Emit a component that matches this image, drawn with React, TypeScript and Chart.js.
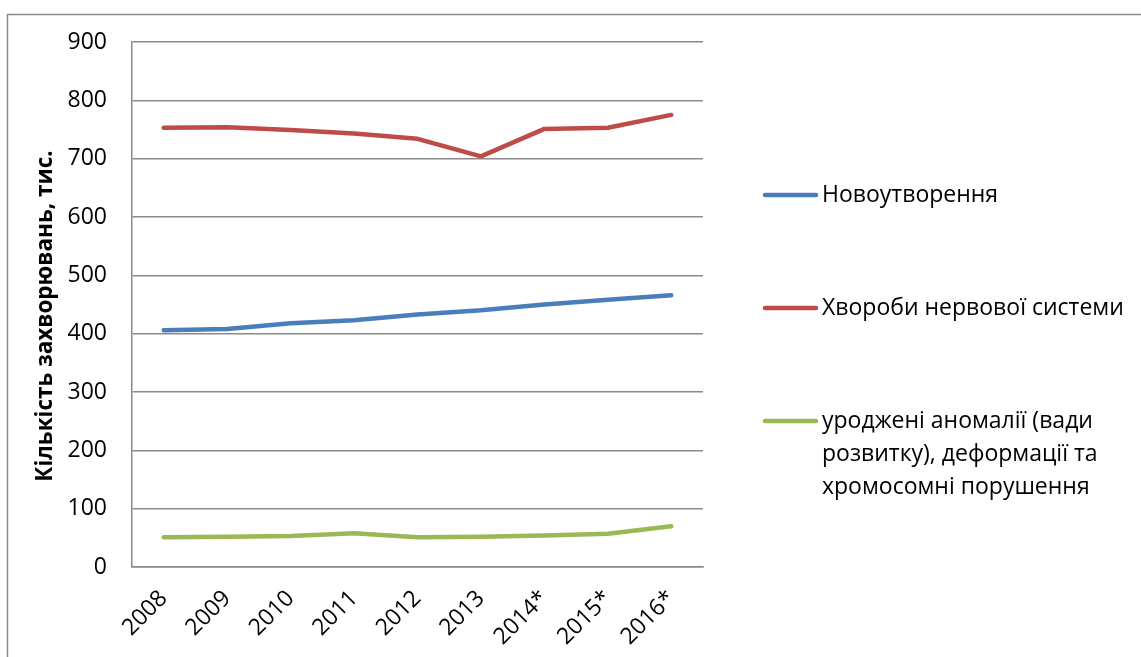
import React, { useEffect, useRef } from "react";
import { Chart, registerables } from "chart.js";

Chart.register(...registerables);

const categories = ["2008", "2009", "2010", "2011", "2012", "2013", "2014*", "2015*", "2016*"];
const neoplasms = [406, 408, 418, 423, 433, 440, 450, 458, 466];
const nervous = [753, 754, 749, 743, 734, 704, 751, 753, 775];
const congenital = [51, 52, 53, 58, 51, 52, 54, 57, 70];

const seriesNames = [
  ["Новоутворення"],
  ["Хвороби нервової системи"],
  ["уроджені аномалії (вади", "розвитку), деформації та", "хромосомні порушення"],
];
const seriesColors = ["#4a7ebb", "#be4b48", "#98b954"];
const yTitle = "Кількість захворювань, тис.";
const FONT = "'Open Sans', sans-serif";

const decorPlugin = {
  id: "decor",
  afterDraw(chart: any) {
    const ctx = chart.ctx;
    ctx.save();
    // outer border
    ctx.strokeStyle = "#8a8a8a";
    ctx.lineWidth = 1.5;
    ctx.beginPath();
    ctx.moveTo(7.5, 657);
    ctx.lineTo(7.5, 14.5);
    ctx.lineTo(1141, 14.5);
    ctx.stroke();
    // y-axis title
    ctx.save();
    ctx.translate(46, 316);
    ctx.rotate(-Math.PI / 2);
    ctx.font = `bold 22.5px ${FONT}`;
    ctx.textAlign = "center";
    ctx.textBaseline = "middle";
    ctx.fillStyle = "#000";
    ctx.fillText(yTitle, 0, 0);
    ctx.restore();
    // legend
    const ys = [195, 308, 421];
    ctx.font = `23px ${FONT}`;
    ctx.textBaseline = "middle";
    ctx.fillStyle = "#000";
    seriesNames.forEach((lines, i) => {
      ctx.strokeStyle = seriesColors[i];
      ctx.lineWidth = 4.5;
      ctx.lineCap = "round";
      ctx.beginPath();
      ctx.moveTo(765, ys[i]);
      ctx.lineTo(816, ys[i]);
      ctx.stroke();
      lines.forEach((t, j) => {
        ctx.fillText(t, 822, ys[i] + j * 33);
      });
    });
    ctx.restore();
  },
};

export default function App() {
  const ref = useRef<HTMLCanvasElement>(null);
  useEffect(() => {
    if (!ref.current) return;
    const chart = new Chart(ref.current, {
      type: "line",
      data: {
        labels: categories,
        datasets: [neoplasms, nervous, congenital].map((d, i) => ({
          label: seriesNames[i].join(" "),
          data: d,
          borderColor: seriesColors[i],
          backgroundColor: seriesColors[i],
          borderWidth: 4.5,
          pointRadius: 0,
          tension: 0,
          borderCapStyle: "round" as const,
          borderJoinStyle: "round" as const,
        })),
      },
      options: {
        animation: false,
        responsive: false,
        layout: { padding: { left: 0, top: 42, right: 438, bottom: 0 } },
        plugins: { legend: { display: false }, tooltip: { enabled: false } },
        scales: {
          x: {
            offset: true,
            grid: { display: false, drawTicks: false },
            border: { display: true, color: "#8a8a8a", width: 1.5 },
            ticks: {
              maxRotation: 45,
              minRotation: 45,
              padding: 18,
              color: "#000",
              font: { family: FONT, size: 23 },
            },
            afterFit: (s: any) => {
              s.height = 90;
            },
          },
          y: {
            min: 0,
            max: 900,
            ticks: {
              stepSize: 100,
              padding: 25,
              color: "#000",
              font: { family: FONT, size: 23 },
            },
            grid: { color: "#8a8a8a", lineWidth: 1.5, drawTicks: false },
            border: { display: true, color: "#8a8a8a", width: 1.5 },
            afterFit: (s: any) => {
              s.width = 132;
            },
          },
        },
      },
      plugins: [decorPlugin],
    });
    return () => chart.destroy();
  }, []);
  return (
    <div style={{ position: "absolute", left: 0, top: 0, width: 1141, height: 657, background: "#fff" }}>
      <canvas ref={ref} width={1141} height={657} />
    </div>
  );
}
